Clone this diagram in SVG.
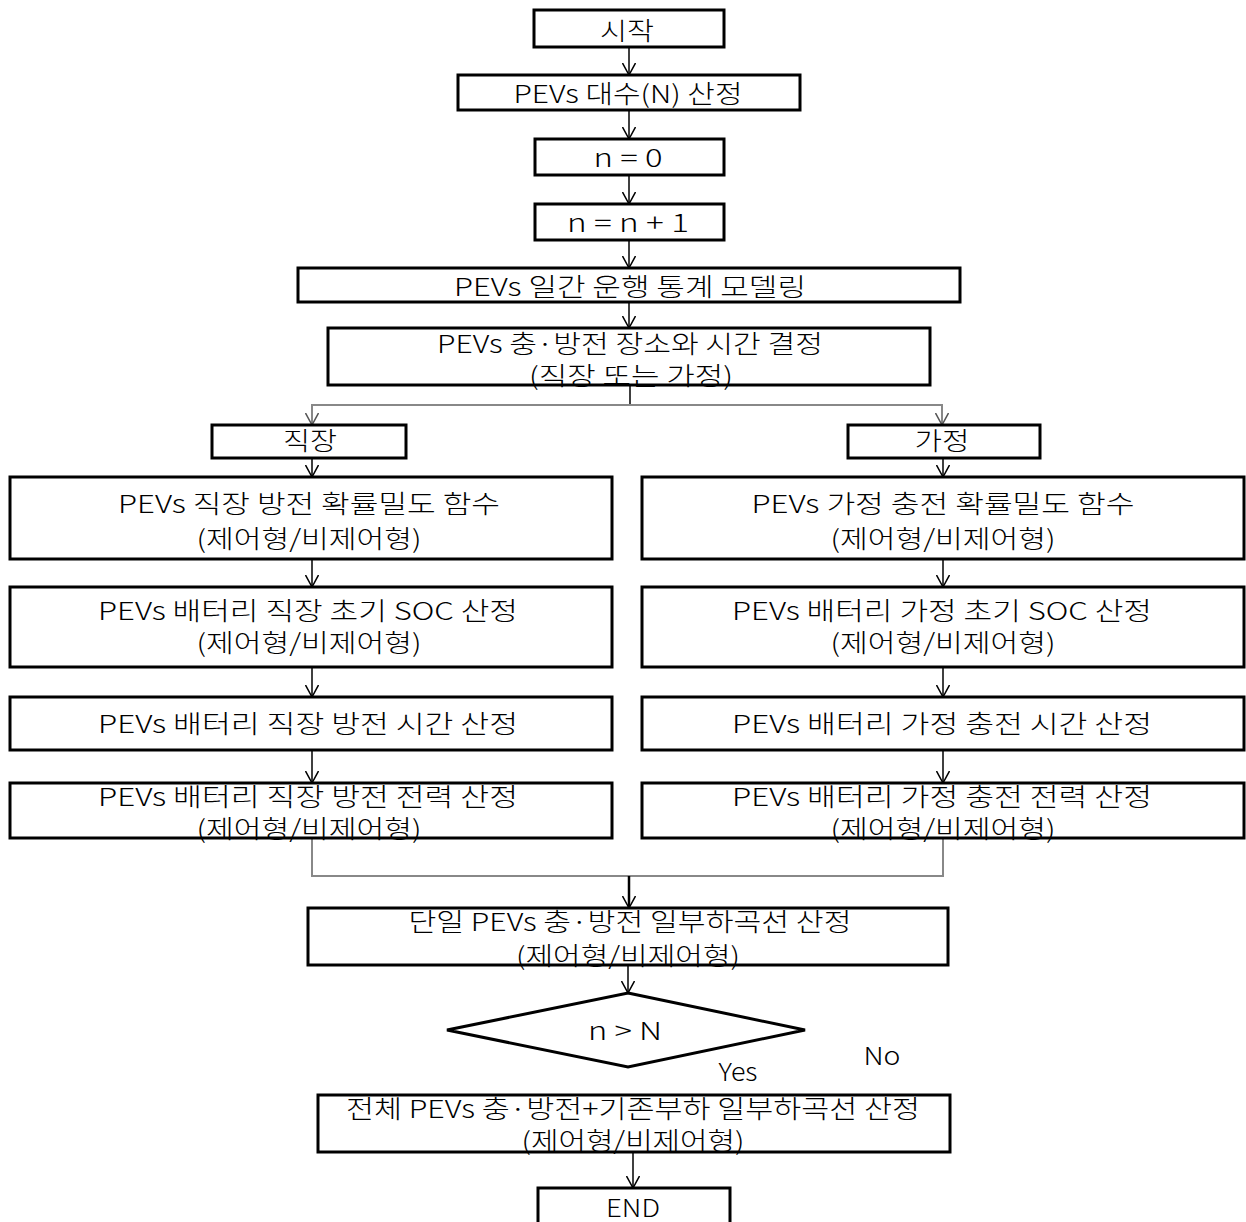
<svg xmlns="http://www.w3.org/2000/svg" width="1246" height="1222" viewBox="0 0 1246 1222">
<defs>
<marker id="ah" viewBox="0 0 12 14" refX="12" refY="7" markerWidth="12" markerHeight="14" markerUnits="userSpaceOnUse" orient="auto">
<path d="M0,0.5 L12,7 L0,13.5" fill="none" stroke="#000" stroke-width="1.5"/>
</marker>
<marker id="ahg" viewBox="0 0 12 14" refX="12" refY="7" markerWidth="12" markerHeight="14" markerUnits="userSpaceOnUse" orient="auto">
<path d="M0,0.5 L12,7 L0,13.5" fill="none" stroke="#555" stroke-width="1.5"/>
</marker>
</defs>
<style>
.b{fill:#fff;stroke:#000;stroke-width:3}
.t{font-family:"Noto Sans CJK KR","Noto Sans",sans-serif;font-size:25px;font-weight:300;fill:#000;text-anchor:middle}
.c{fill:none;stroke:#000;stroke-width:1.5}
.g{fill:none;stroke:#888;stroke-width:2}
</style>
<rect width="1246" height="1222" fill="#fff"/>
<g id="connectors">
<line class="c" x1="629" y1="47" x2="629" y2="75" marker-end="url(#ah)"/>
<line class="c" x1="629" y1="110" x2="629" y2="139" marker-end="url(#ah)"/>
<line class="c" x1="629" y1="175" x2="629" y2="204" marker-end="url(#ah)"/>
<line class="c" x1="629" y1="240" x2="629" y2="268" marker-end="url(#ah)"/>
<line class="c" x1="629" y1="302" x2="629" y2="328" marker-end="url(#ah)"/>
<line class="c" x1="630" y1="385" x2="630" y2="405"/>
<polyline class="g" points="312,425 312,405 942,405 942,425"/>
<line class="g" x1="312" y1="405" x2="312" y2="425" marker-end="url(#ahg)"/>
<line class="g" x1="942" y1="405" x2="942" y2="425" marker-end="url(#ahg)"/>
<line class="c" x1="312" y1="458" x2="312" y2="477" marker-end="url(#ah)"/>
<line class="c" x1="943" y1="458" x2="943" y2="477" marker-end="url(#ah)"/>
<line class="c" x1="312" y1="559" x2="312" y2="587" marker-end="url(#ah)"/>
<line class="c" x1="943" y1="559" x2="943" y2="587" marker-end="url(#ah)"/>
<line class="c" x1="312" y1="667" x2="312" y2="697" marker-end="url(#ah)"/>
<line class="c" x1="943" y1="667" x2="943" y2="697" marker-end="url(#ah)"/>
<line class="c" x1="312" y1="750" x2="312" y2="783" marker-end="url(#ah)"/>
<line class="c" x1="943" y1="750" x2="943" y2="783" marker-end="url(#ah)"/>
<polyline class="g" points="312,838 312,876 943,876 943,838"/>
<line x1="629" y1="876" x2="629" y2="908" stroke="#000" stroke-width="2.5" marker-end="url(#ah)"/>
<line class="c" x1="628" y1="965" x2="628" y2="993" marker-end="url(#ah)"/>
<line class="c" x1="633" y1="1152" x2="633" y2="1188" marker-end="url(#ah)"/>
</g>
<g id="start"><rect class="b" x="534" y="10" width="190" height="37"/><text class="t" x="627" y="40" textLength="54" lengthAdjust="spacingAndGlyphs">시작</text></g>
<g id="selectN"><rect class="b" x="458" y="75" width="342" height="35"/><text class="t" x="628" y="103" textLength="229" lengthAdjust="spacingAndGlyphs">PEVs 대수(N) 산정</text></g>
<g id="n0"><rect class="b" x="535" y="139" width="189" height="36"/><text class="t" x="628" y="167" textLength="69" lengthAdjust="spacingAndGlyphs">n = 0</text></g>
<g id="nInc"><rect class="b" x="535" y="204" width="189" height="36"/><text class="t" x="628" y="232" textLength="122" lengthAdjust="spacingAndGlyphs">n = n + 1</text></g>
<g id="model"><rect class="b" x="298" y="268" width="662" height="34"/><text class="t" x="630" y="296" textLength="352" lengthAdjust="spacingAndGlyphs">PEVs 일간 운행 통계 모델링</text></g>
<g id="place"><rect class="b" x="328" y="328" width="602" height="57"/><text class="t" x="630" y="353" textLength="386" lengthAdjust="spacingAndGlyphs">PEVs 충·방전 장소와 시간 결정</text><text class="t" x="631" y="385" textLength="204" lengthAdjust="spacingAndGlyphs">(직장 또는 가정)</text></g>
<g id="work"><rect class="b" x="212" y="425" width="194" height="33"/><text class="t" x="310" y="450" textLength="54" lengthAdjust="spacingAndGlyphs">직장</text></g>
<g id="home"><rect class="b" x="848" y="425" width="192" height="33"/><text class="t" x="942" y="450" textLength="55" lengthAdjust="spacingAndGlyphs">가정</text></g>
<g id="wA"><rect class="b" x="10" y="477" width="602" height="82"/><text class="t" x="309" y="513" textLength="382" lengthAdjust="spacingAndGlyphs">PEVs 직장 방전 확률밀도 함수</text><text class="t" x="309" y="548" textLength="225" lengthAdjust="spacingAndGlyphs">(제어형/비제어형)</text></g>
<g id="wB"><rect class="b" x="10" y="587" width="602" height="80"/><text class="t" x="308" y="620" textLength="420" lengthAdjust="spacingAndGlyphs">PEVs 배터리 직장 초기 SOC 산정</text><text class="t" x="309" y="652" textLength="225" lengthAdjust="spacingAndGlyphs">(제어형/비제어형)</text></g>
<g id="wC"><rect class="b" x="10" y="697" width="602" height="53"/><text class="t" x="308" y="733" textLength="420" lengthAdjust="spacingAndGlyphs">PEVs 배터리 직장 방전 시간 산정</text></g>
<g id="wD"><rect class="b" x="10" y="783" width="602" height="55"/><text class="t" x="308" y="806" textLength="420" lengthAdjust="spacingAndGlyphs">PEVs 배터리 직장 방전 전력 산정</text><text class="t" x="309" y="838" textLength="225" lengthAdjust="spacingAndGlyphs">(제어형/비제어형)</text></g>
<g id="hA"><rect class="b" x="642" y="477" width="602" height="82"/><text class="t" x="943" y="513" textLength="383" lengthAdjust="spacingAndGlyphs">PEVs 가정 충전 확률밀도 함수</text><text class="t" x="943" y="548" textLength="225" lengthAdjust="spacingAndGlyphs">(제어형/비제어형)</text></g>
<g id="hB"><rect class="b" x="642" y="587" width="602" height="80"/><text class="t" x="942" y="620" textLength="420" lengthAdjust="spacingAndGlyphs">PEVs 배터리 가정 초기 SOC 산정</text><text class="t" x="943" y="652" textLength="225" lengthAdjust="spacingAndGlyphs">(제어형/비제어형)</text></g>
<g id="hC"><rect class="b" x="642" y="697" width="602" height="53"/><text class="t" x="942" y="733" textLength="420" lengthAdjust="spacingAndGlyphs">PEVs 배터리 가정 충전 시간 산정</text></g>
<g id="hD"><rect class="b" x="642" y="783" width="602" height="55"/><text class="t" x="942" y="806" textLength="420" lengthAdjust="spacingAndGlyphs">PEVs 배터리 가정 충전 전력 산정</text><text class="t" x="943" y="838" textLength="225" lengthAdjust="spacingAndGlyphs">(제어형/비제어형)</text></g>
<g id="single"><rect class="b" x="308" y="908" width="640" height="57"/><text class="t" x="630" y="931" textLength="443" lengthAdjust="spacingAndGlyphs">단일 PEVs 충·방전 일부하곡선 산정</text><text class="t" x="628" y="965" textLength="224" lengthAdjust="spacingAndGlyphs">(제어형/비제어형)</text></g>
<g id="decision"><polygon points="628,993 805,1030 628,1067 447,1030" fill="#fff" stroke="#000" stroke-width="3"/><text class="t" x="625" y="1040" textLength="74" lengthAdjust="spacingAndGlyphs">n &gt; N</text></g>
<g id="labels"><text class="t" x="882" y="1065" textLength="37" lengthAdjust="spacingAndGlyphs">No</text><text class="t" x="738" y="1081" textLength="39" lengthAdjust="spacingAndGlyphs">Yes</text></g>
<g id="total"><rect class="b" x="318" y="1095" width="632" height="57"/><text class="t" x="633" y="1118" textLength="574" lengthAdjust="spacingAndGlyphs">전체 PEVs 충·방전+기존부하 일부하곡선 산정</text><text class="t" x="633" y="1150" textLength="223" lengthAdjust="spacingAndGlyphs">(제어형/비제어형)</text></g>
<g id="end"><rect class="b" x="538" y="1188" width="192" height="40"/><text class="t" x="633" y="1217" textLength="54" lengthAdjust="spacingAndGlyphs">END</text></g>
</svg>
